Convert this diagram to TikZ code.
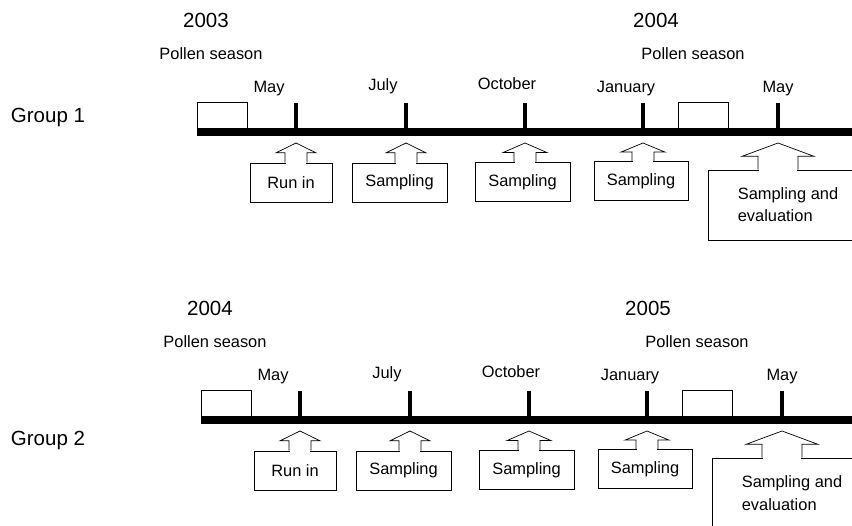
\documentclass[tikz,border=0pt]{standalone}
\usepackage{fontspec}
\setmainfont{Liberation Sans}
\usetikzlibrary{calc}

% arrow from a box up to a tick: box, tick, shaft half width, head half width
\newcommand{\upcallout}[4]{%
  \coordinate (tip) at ($(#2)+(0,11)$);
  \coordinate (foot) at (#2 |- #1.north);
  \coordinate (hb) at ($(tip)!0.5!(foot)$);
  \fill[white] ($(foot)+(-#3+0.6,1.5)$) rectangle ($(foot)+(#3-0.6,-1.5)$);
  \draw ($(foot)+(-#3,0)$) -- ($(hb)+(-#3,0)$) -- ($(hb)+(-#4,0)$) -- (tip)
        -- ($(hb)+(#4,0)$) -- ($(hb)+(#3,0)$) -- ($(foot)+(#3,0)$);
}

\tikzset{
  lbl/.style={font=\fontsize{14}{17}\selectfont, anchor=base, inner sep=0pt},
  big/.style={font=\fontsize{17.5}{21}\selectfont, anchor=base, inner sep=0pt},
  cbox/.style={draw, font=\fontsize{14}{19}\selectfont, minimum height=1.17cm, inner sep=2pt},
  season/.style={draw, minimum width=1.5cm, minimum height=0.78cm, inner sep=0pt},
  monthtick/.style={line width=3.4pt},
  timebar/.style={line width=7.6pt}
}

\begin{document}
\begin{tikzpicture}[x=0.03cm, y=-0.03cm, line width=0.6pt]
  \useasboundingbox (0,0) rectangle (852,525);
  \clip (0,0) rectangle (852,525);

  \node[big] (grp1) at (48,122) {Group 1};
  \node[big] (grp2) at (48,445) {Group 2};

  \foreach \g/\ya/\yb/\dx/\dy/\yx in {1/2003/2004/0/0/656, 2/2004/2005/4/288/644}{
  \begin{scope}[shift={(\dx,\dy)}]
    \node[big] (yra\g) at (206,27) {\ya};
    \node[big] (yrb\g) at (\yx,27) {\yb};
    \node[lbl] (psa\g) at (211,59) {Pollen season};
    \node[lbl] (psb\g) at (693,59) {Pollen season};

    \node[lbl] (lmay\g)  at (269,92) {May};
    \node[lbl] (ljul\g)  at (383,90) {July};
    \node[lbl] (loct\g)  at (507,89) {October};
    \node[lbl] (ljan\g)  at (626,92) {January};
    \node[lbl] (lmayb\g) at (778,92) {May};

    \node[season] (sa\g) at (222,115) {};
    \node[season] (sb\g) at (703.5,115) {};

    % time line with month ticks
    \coordinate (start\g) at (197,132);
    \coordinate (end\g) at (900,132);
    \draw[timebar] (start\g) -- (end\g);
    \foreach \m/\x in {may/296,jul/406,oct/525,jan/643,mayb/778}{
      \coordinate (\m\g) at (\x,132);
      \draw[monthtick] (\m\g) -- ++(0,-29);
    }

    \node[cbox, minimum width=2.46cm] (run\g)  at (291,182.5) {Run in};
    \node[cbox, minimum width=2.85cm] (sjul\g) at (399.5,182.5) {Sampling};
    \node[cbox, minimum width=2.85cm] (soct\g) at (522.5,182) {Sampling};
    \node[cbox, minimum width=2.82cm] (sjan\g) at (641,181) {Sampling};
    \node[cbox, minimum width=4.8cm, minimum height=2.1cm, align=left] (eval\g) at (788,205) {Sampling and\\evaluation};

    \upcallout{run\g}{may\g}{11}{20}
    \upcallout{sjul\g}{jul\g}{11}{20}
    \upcallout{soct\g}{oct\g}{11}{22}
    \upcallout{sjan\g}{jan\g}{11}{22}
    \upcallout{eval\g}{mayb\g}{20}{36}
  \end{scope}
  }
\end{tikzpicture}
\end{document}
